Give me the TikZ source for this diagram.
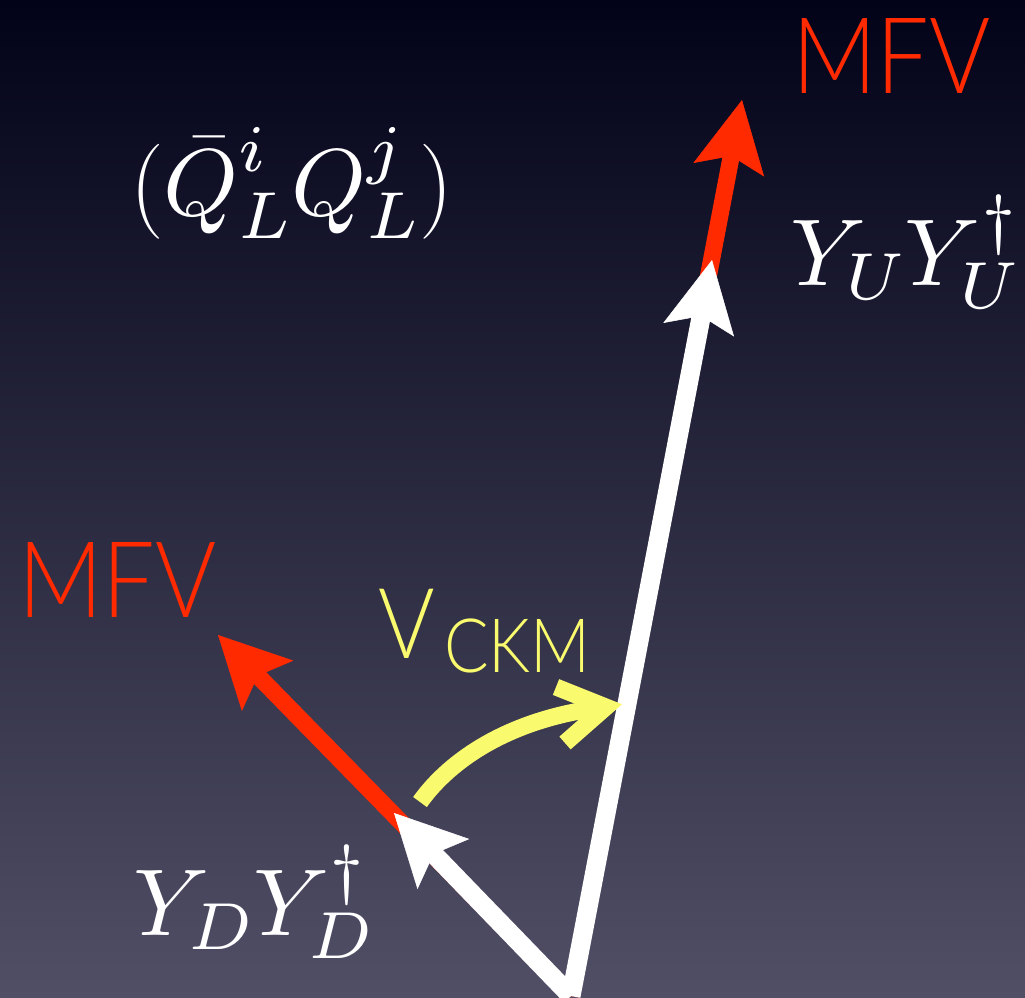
\RequirePackage{fix-cm}
\documentclass[tikz,border=0pt]{standalone}
\usepackage{fontspec}
\newfontfamily\gill{Lato Light}[FakeStretch=0.88]
\DeclareFontShape{OML}{cmm}{m}{it}{<-80> cmmi7 <80-> cmmi10}{\skewchar\font127 }
\DeclareFontShape{OMS}{cmsy}{m}{n}{<-80> cmsy7 <80-> cmsy10}{\skewchar\font48 }
\newcommand\mysupraise{\fontdimen14\textfont2=44pt\relax}
\usetikzlibrary{arrows.meta}
\definecolor{bgtop}{RGB}{2,2,24}
\definecolor{bgbot}{RGB}{80,79,102}
\definecolor{mfvred}{RGB}{255,42,0}
\definecolor{ckmyellow}{RGB}{250,250,110}
\tikzset{
  bigtip/.tip={Stealth[length=71pt,width=72pt,inset=14pt,line width=0.5pt]},
  redarrow/.style={draw=mfvred,line width=17pt,-{bigtip[fill=mfvred]}},
  whitearrow/.style={draw=white,line width=19pt,-{bigtip[fill=white]}},
  mfvlabel/.style={text=mfvred,font=\gill\fontsize{106}{110}\selectfont,inner sep=0pt,anchor=base west},
  mathlabel/.style={text=white,font=\fontsize{95}{100}\selectfont,inner sep=0pt,anchor=base west},
}
\begin{document}
\begin{tikzpicture}[x=1pt,y=-1pt]
\useasboundingbox (0,0) rectangle (1025,997);
\clip (0,0) rectangle (1025,997);
\shade[top color=bgtop,bottom color=bgbot] (0,0) rectangle (1025,997);
% points
\coordinate (O) at (571,996);
\coordinate (Rup) at (742,100);
\coordinate (Wup) at (712,260);
\coordinate (Rleft) at (218,635);
\coordinate (Wleft) at (394,813);
% arrows
\draw[redarrow] (O) -- (Rup);
\draw[redarrow] (O) -- (Rleft);
\draw[whitearrow] (O) -- (Wup);
\draw[whitearrow] (O) -- (Wleft);
% CKM rotation arrow
\coordinate (ys) at (420,802);
\coordinate (ye) at (606,707);
\coordinate (ya1) at (556,687);
\coordinate (ya2) at (565,743);
\draw[ckmyellow,line width=17pt] (ys) .. controls (450,760) and (510,718) .. (ye);
\draw[ckmyellow,line width=17pt,line join=miter] (ya1) -- (ye) -- (ya2);
% labels
\node[mfvlabel] (mfv1) at (792,93) {MFV};
\node[mfvlabel] (mfv2) at (18,617) {MFV};
\node[text=ckmyellow,font=\gill\fontsize{98}{100}\selectfont,inner sep=0pt,anchor=base west] (V) at (378,658) {V};
\node[text=ckmyellow,font=\gill\fontsize{75}{77}\selectfont,inner sep=0pt,anchor=base west] (ckm) at (444,672) {CKM};
\node[mathlabel] (QQ) at (130,215) {$\mysupraise(\bar{Q}^i_L Q^j_L)$};
\node[mathlabel] (YU) at (790,285) {$\mysupraise Y_U Y_U^\dagger$};
\node[mathlabel] (YD) at (133,935) {$\mysupraise Y_D Y_D^\dagger$};
\end{tikzpicture}
\end{document}
